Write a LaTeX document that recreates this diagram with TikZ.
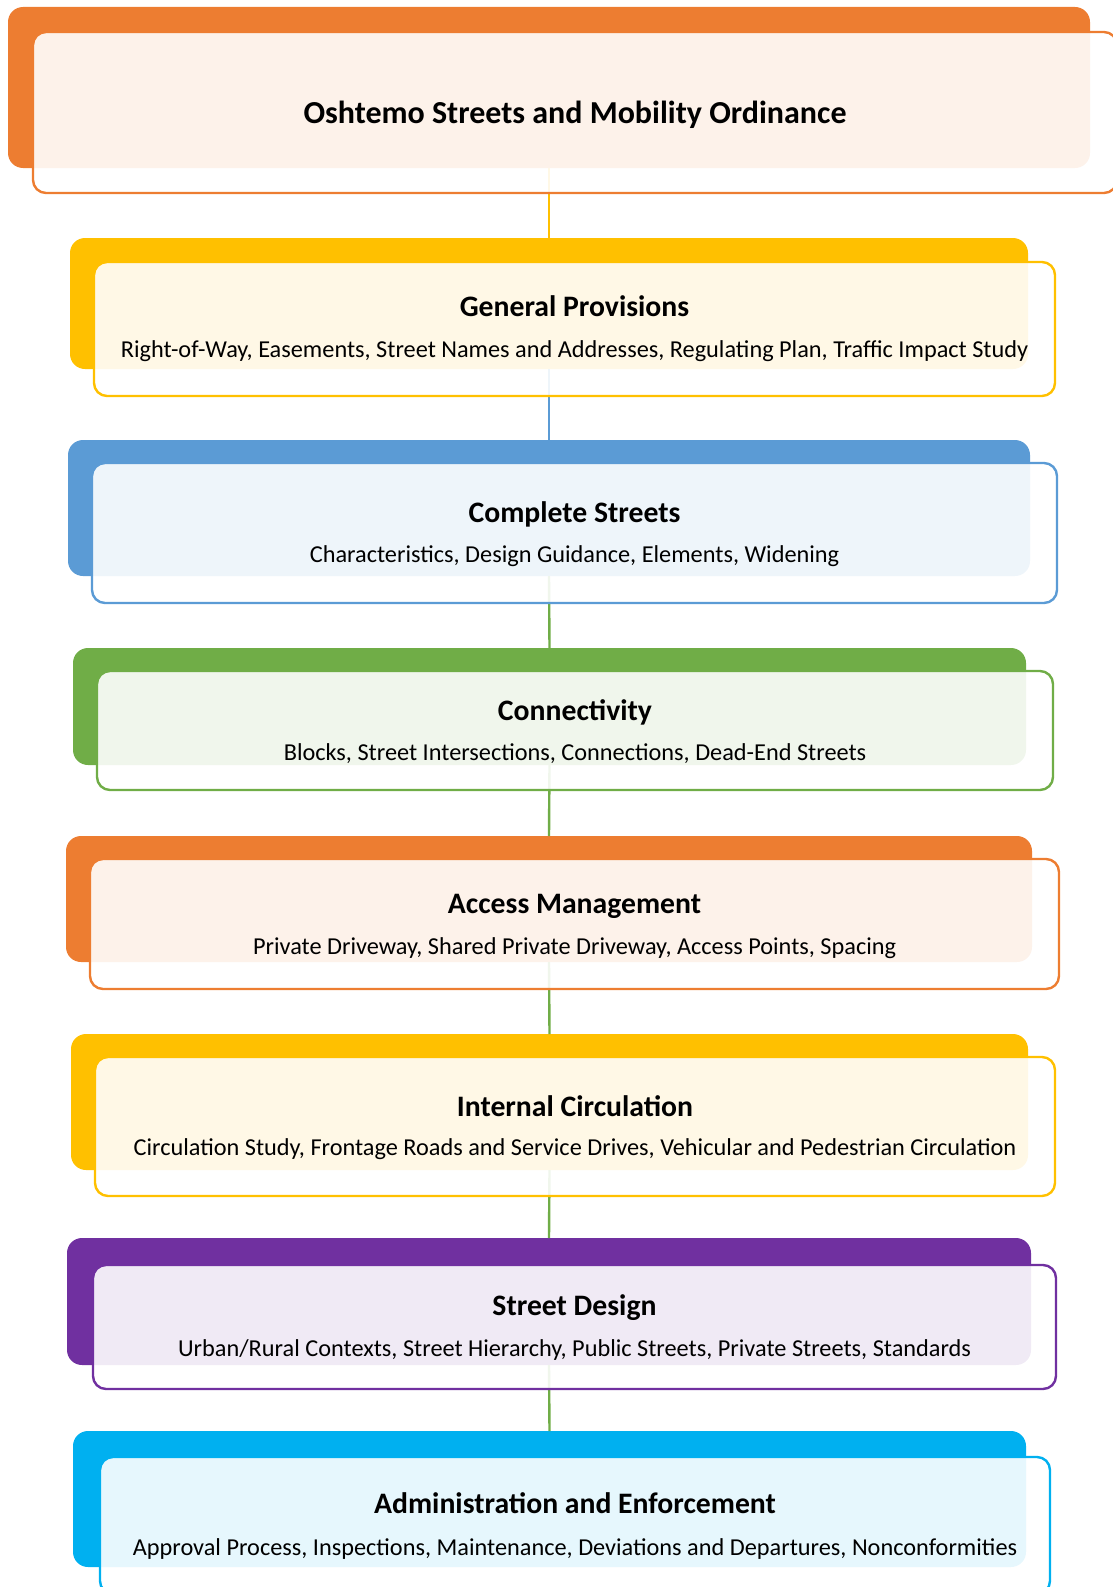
\documentclass[tikz,border=0pt]{standalone}
\usepackage{fontspec}
\setmainfont{Carlito}
\definecolor{corange}{HTML}{ED7D31}
\definecolor{cyellow}{HTML}{FFC000}
\definecolor{cblue}{HTML}{5B9BD5}
\definecolor{cgreen}{HTML}{70AD47}
\definecolor{cpurple}{HTML}{7030A0}
\definecolor{ccyan}{HTML}{00B0F0}
\begin{document}
\begin{tikzpicture}[x=1pt,y=-1pt,
  backbox/.style={rounded corners=15pt, inner sep=0pt, outer sep=0pt, draw=none},
  frontbox/.style={rounded corners=13pt, line width=2.4pt, fill=white, fill opacity=0.9, inner sep=0pt, outer sep=0pt},
  ttl/.style={font=\bfseries\fontsize{29.7}{34}\selectfont, inner sep=0pt, text height=0.64em, text depth=0pt, anchor=center},
  bigttl/.style={font=\bfseries\fontsize{32}{38}\selectfont, inner sep=0pt, text height=0.64em, text depth=0pt, anchor=center},
  subtxt/.style={font=\fontsize{24.3}{29}\selectfont, inner sep=0pt, text height=0.64em, text depth=0pt, anchor=center},
  link/.style={line width=2.4pt}]
\useasboundingbox (0,0) rectangle (1113,1587);
\clip (0,0) rectangle (1113,1587);

% back boxes
\node[backbox, fill=corange, minimum width=1082pt, minimum height=161pt] (b1) at (549,87.5) {};
\node[backbox, fill=cyellow, minimum width=958pt, minimum height=131pt] (b2) at (549,303.5) {};
\node[backbox, fill=cblue, minimum width=962pt, minimum height=136pt] (b3) at (549,508) {};
\node[backbox, fill=cgreen, minimum width=953pt, minimum height=117pt] (b4) at (549.5,706.5) {};
\node[backbox, fill=corange, minimum width=966pt, minimum height=126pt] (b5) at (549,899) {};
\node[backbox, fill=cyellow, minimum width=957pt, minimum height=136pt] (b6) at (549.5,1102) {};
\node[backbox, fill=cpurple, minimum width=964pt, minimum height=127pt] (b7) at (549,1301.5) {};
\node[backbox, fill=ccyan, minimum width=953pt, minimum height=136pt] (b8) at (549.5,1499) {};

% connectors
\draw[link, cyellow] (b1.south) -- (b2.north);
\draw[link, cblue] (b2.south) -- (b3.north);
\draw[link, cgreen] (b3.south) -- (b4.north);
\draw[link, cgreen] (b4.south) -- (b5.north);
\draw[link, cgreen] (b5.south) -- (b6.north);
\draw[link, cgreen] (b6.south) -- (b7.north);
\draw[link, cgreen] (b7.south) -- (b8.north);

% front boxes
\node[frontbox, draw=corange, minimum width=1084pt, minimum height=161pt] (f1) at (575,112.5) {};
\node[frontbox, draw=cyellow, minimum width=961pt, minimum height=134pt] (f2) at (574.5,329) {};
\node[frontbox, draw=cblue, minimum width=965pt, minimum height=140pt] (f3) at (574.5,533) {};
\node[frontbox, draw=cgreen, minimum width=956pt, minimum height=119pt] (f4) at (575,730.5) {};
\node[frontbox, draw=corange, minimum width=969pt, minimum height=130pt] (f5) at (574.5,924) {};
\node[frontbox, draw=cyellow, minimum width=960pt, minimum height=139pt] (f6) at (575,1126.5) {};
\node[frontbox, draw=cpurple, minimum width=963pt, minimum height=124pt] (f7) at (574.5,1327) {};
\node[frontbox, draw=ccyan, minimum width=950pt, minimum height=137pt] (f8) at (575,1525.5) {};

% texts
\node[bigttl] (t1) at (575,120.5) {Oshtemo Streets and Mobility Ordinance};
\node[ttl] (t2) at (574.5,313.6) {General Provisions};
\node[subtxt] (s2) at (574.5,354) {Right-of-Way, Easements, Street Names and Addresses, Regulating Plan, Traffic Impact Study};
\node[ttl] (t3) at (574.5,519) {Complete Streets};
\node[subtxt] (s3) at (574.5,559.5) {Characteristics, Design Guidance, Elements, Widening};
\node[ttl] (t4) at (575,717) {Connectivity};
\node[subtxt] (s4) at (575,757) {Blocks, Street Intersections, Connections, Dead-End Streets};
\node[ttl] (t5) at (574.5,910.5) {Access Management};
\node[subtxt] (s5) at (574.5,951) {Private Driveway, Shared Private Driveway, Access Points, Spacing};
\node[ttl] (t6) at (575,1113) {Internal Circulation};
\node[subtxt] (s6) at (575,1152) {Circulation Study, Frontage Roads and Service Drives, Vehicular and Pedestrian Circulation};
\node[ttl] (t7) at (574.5,1312) {Street Design};
\node[subtxt] (s7) at (574.5,1353) {Urban/Rural Contexts, Street Hierarchy, Public Streets, Private Streets, Standards};
\node[ttl] (t8) at (575,1510.5) {Administration and Enforcement};
\node[subtxt] (s8) at (575,1552) {Approval Process, Inspections, Maintenance, Deviations and Departures, Nonconformities};
\end{tikzpicture}
\end{document}
